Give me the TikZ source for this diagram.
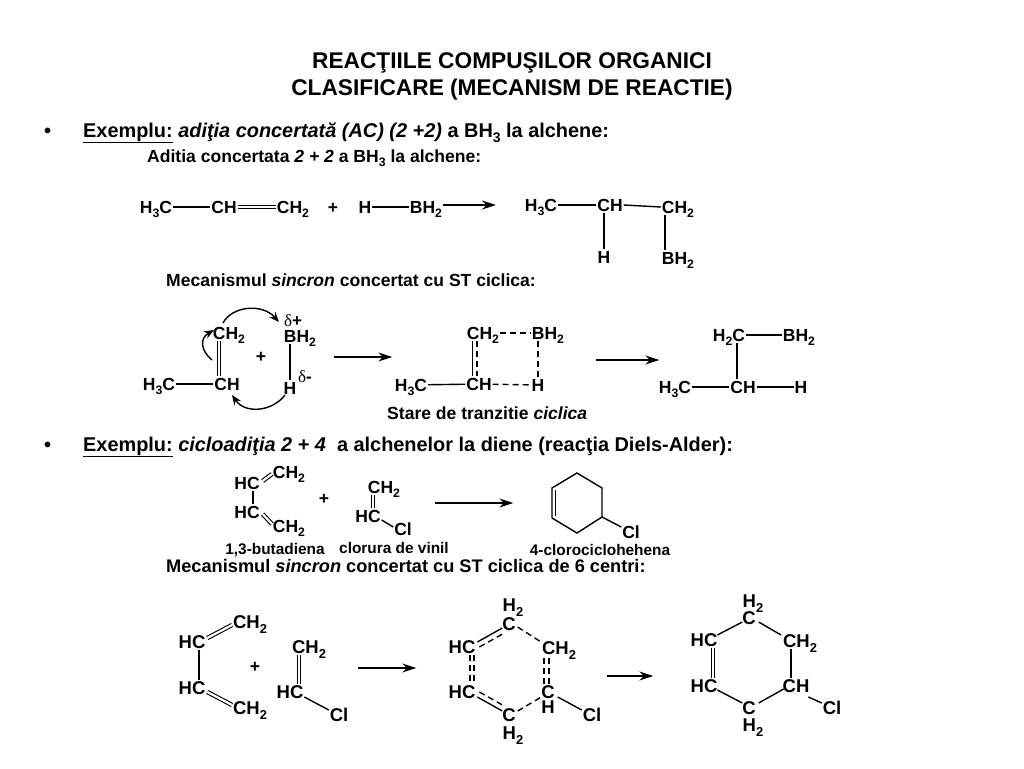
\documentclass[tikz,border=0pt]{standalone}
\usepackage{fontspec}
\usepackage{graphicx}
\setmainfont{Liberation Sans}
\newfontfamily\grk{Liberation Serif}
\usetikzlibrary{arrows.meta}
\newcommand\sbs[1]{\raisebox{-.26em}{\scalebox{.7}{#1}}}
\newcommand\sizeA{\fontsize{17.5}{20}\selectfont\bfseries}
\newcommand\sizeB{\fontsize{18.5}{21}\selectfont\bfseries}
\tikzset{
  atom/.style={font=\sizeA,text height=12.5pt,text depth=0pt,inner xsep=1pt,inner ysep=1.5pt,outer sep=0pt},
  atomB/.style={font=\sizeB,text height=13pt,text depth=0pt,inner xsep=1pt,inner ysep=1.5pt,outer sep=0pt},
  plain/.style={font=\sizeA,inner sep=0pt},
  smalltxt/.style={font=\fontsize{15.4}{18}\selectfont\bfseries,inner sep=0pt},
  headtxt/.style={font=\fontsize{17.55}{20}\selectfont\bfseries,anchor=base west,inner sep=0pt},
  headtxtB/.style={font=\fontsize{18.2}{20}\selectfont\bfseries,anchor=base west,inner sep=0pt},
  bigtxt/.style={font=\fontsize{19.9}{22}\selectfont\bfseries,anchor=base west,inner sep=0pt},
  titletxt/.style={font=\fontsize{22.7}{26}\selectfont\bfseries,inner sep=0pt},
  bond/.style={line width=1.4pt},
  dbl/.style={line width=1.1pt,double,double distance=2.2pt},
  dsh/.style={line width=1.4pt,dash pattern=on 6pt off 4pt},
  arr/.style={line width=1.4pt,-{Stealth[length=14pt,width=9pt]}},
  curv/.style={line width=1.4pt,-{Stealth[length=10pt,width=8pt]}},
}
\begin{document}
\begin{tikzpicture}[x=1pt,y=-1pt]
\useasboundingbox (0,0) rectangle (1024,768);
\fill[white] (0,0) rectangle (1024,768);
% titles
\node[titletxt] (t1) at (512,63) {REACŢIILE COMPUŞILOR ORGANICI};
\node[titletxt] (t2) at (512,90) {CLASIFICARE (MECANISM DE REACTIE)};
\node[bigtxt] (b1) at (44,137) {•};
\node[bigtxt] (h1) at (83,137) {\underline{Exemplu:} \textit{adiţia concertată (AC) (2 +2)} a BH\sbs{3} la alchene:};
\node[headtxt] (h2) at (147,162) {Aditia concertata \textit{2 + 2} a BH\sbs{3} la alchene:};
% reaction 1
\node[atom] (a1) at (156,207) {H\sbs{3}C};
\node[atom] (a2) at (224,207) {CH};
\node[atom] (a3) at (293,207) {CH\sbs{2}};
\node[plain] (a4) at (333,208) {+};
\node[atom] (a5) at (365,207) {H};
\node[atom] (a6) at (426,207) {BH\sbs{2}};
\node[atom] (p1) at (541,205) {H\sbs{3}C};
\node[atom] (p2) at (610,205) {CH};
\node[atom] (p3) at (678,207) {CH\sbs{2}};
\node[atom] (p4) at (604,257) {H};
\node[atom] (p5) at (678,258) {BH\sbs{2}};
\draw[bond] (a1) -- (a2);
\draw[dbl] (a2) -- (a3);
\draw[bond] (a5) -- (a6);
\draw[arr] (a6.east |- 0,205) -- (496,205) coordinate (a7);
\draw[bond] (p1) -- (p2);
\draw[bond] (p2.east) -- (p3.west);
\draw[bond] ([xshift=-6pt]p2.south) -- (p4.north);
\draw[bond] ([xshift=-13pt]p3.south) -- ([xshift=-13pt]p5.north);
% mechanism 1
\node[headtxt] (m1) at (166,286) {Mecanismul \textit{sincron} concertat cu ST ciclica:};
\node[atom] (c1) at (229,333) {CH\sbs{2}};
\node[atom] (c2) at (300,336) {BH\sbs{2}};
\node[font=\fontsize{17}{17}\selectfont,inner sep=0pt] (c3) at (293,321) {{\grk δ}\textbf{+}};
\node[plain] (c4) at (261,357) {+};
\node[atom] (c5) at (159,384) {H\sbs{3}C};
\node[atom] (c6) at (227,384) {CH};
\node[atom] (c7) at (290,388) {H};
\node[font=\fontsize{17}{17}\selectfont,inner sep=0pt] (c8) at (305,377) {{\grk δ}\textbf{-}};
\draw[dbl] ([xshift=-10pt]c1.south) -- ([xshift=-8pt]c6.north);
\draw[bond] (c5) -- (c6);
\draw[bond] ([xshift=-10pt]c2.south) -- (c7.north);
\draw[curv] (223,323) coordinate (s1) .. controls (232,306) and (262,303) .. (279,322) coordinate (e1);
\draw[curv] (212,360) coordinate (s2) .. controls (200,350) and (200,338) .. (214,330) coordinate (e2);
\draw[curv] (285,395) coordinate (s3) .. controls (272,412) and (245,414) .. (232,395) coordinate (e3);
\node[inner sep=0pt] (g1) at (333,357) {};
\node[inner sep=0pt] (g2) at (393,357) {};
\draw[arr] (g1) -- (g2);
\node[atom] (d1) at (483,333) {CH\sbs{2}};
\node[atom] (d2) at (548,333) {BH\sbs{2}};
\node[atom] (d3) at (411,385) {H\sbs{3}C};
\node[atom] (d4) at (479,384) {CH};
\node[atom] (d5) at (538,385) {H};
\node[headtxt] (d6) at (387,419) {Stare de tranzitie \textit{ciclica}};
\draw[dsh] (d1) -- (d2);
\draw[bond] ([xshift=-10.5pt]d1.south) -- ([xshift=-10.5pt]d1.south |- d4.north);
\draw[dsh] ([xshift=-6pt]d1.south) -- ([xshift=-6pt]d1.south |- d4.north);
\draw[dsh] ([xshift=-10pt]d2.south) -- (d5.north);
\draw[bond] (d3) -- (d4);
\draw[dsh] (d4) -- (d5);
\node[inner sep=0pt] (g3) at (595,360) {};
\node[inner sep=0pt] (g4) at (660,360) {};
\draw[arr] (g3) -- (g4);
\node[atom] (f1) at (729,335) {H\sbs{2}C};
\node[atom] (f2) at (799,335) {BH\sbs{2}};
\node[atom] (f3) at (675,387) {H\sbs{3}C};
\node[atom] (f4) at (743,387) {CH};
\node[atom] (f5) at (801,387) {H};
\draw[bond] (f1) -- (f2);
\draw[bond] ([xshift=-6pt]f4.north) -- ([xshift=-6pt]f4.north |- f1.south);
\draw[bond] (f3) -- (f4);
\draw[bond] (f4) -- (f5);
% section 2
\node[bigtxt] (b2) at (44,451) {•};
\node[bigtxt] (h3) at (83,451) {\underline{Exemplu:} \textit{cicloadiţia 2 + 4} ~a alchenelor la diene (reacţia Diels-Alder):};
\node[atom] (k1) at (247,483) {HC};
\node[atom] (k2) at (289,472) {CH\sbs{2}};
\node[atom] (k3) at (247,512) {HC};
\node[atom] (k4) at (289,526) {CH\sbs{2}};
\node[plain] (k5) at (324,499) {+};
\node[atom] (k6) at (384,487) {CH\sbs{2}};
\node[atom] (k7) at (368,516) {HC};
\node[atom] (k8) at (403,529) {Cl};
\node[smalltxt] (k9) at (275,550) {1,3-butadiena};
\node[smalltxt] (k10) at (394,548) {clorura de vinil};
\node[smalltxt] (k11) at (600,550) {4-clorociclohehena};
\draw[dbl] ([shift={(2,-2)}]k1.east) -- ([shift={(0,2)}]k2.west);
\draw[bond] ([xshift=6pt]k1.south) -- ([xshift=6pt]k3.north);
\draw[dbl] ([shift={(2,2)}]k3.east) -- ([shift={(0,-2)}]k4.west);
\draw[dbl] ([xshift=-11pt]k6.south) -- ([xshift=5pt]k7.north);
\draw[bond] ([shift={(0,4)}]k7.east) -- ([shift={(0,-2)}]k8.west);
\node[inner sep=0pt] (g5) at (434,503) {};
\node[inner sep=0pt] (g6) at (514,503) {};
\draw[arr] (g5) -- (g6);
\coordinate (r1) at (577,473);
\coordinate (r2) at (602,488);
\coordinate (r3) at (602,517);
\coordinate (r4) at (577,533);
\coordinate (r5) at (552,518);
\coordinate (r6) at (552,488);
\node[atom] (rc) at (631,532) {Cl};
\draw[bond,line join=miter] (r5) -- (r6) -- (r1) -- (r2) -- (r3) -- (r4) -- (r5);
\draw[bond] (555.5,490) coordinate (r7) -- (555.5,516) coordinate (r8);
\draw[bond] (r3) -- ([shift={(0,-5)}]rc.west);
% mechanism 2
\node[headtxtB] (m2) at (166,572) {Mecanismul \textit{sincron} concertat cu ST ciclica de 6 centri:};
\node[atomB] (n1) at (192,642) {HC};
\node[atomB] (n2) at (250,622) {CH\sbs{2}};
\node[atomB] (n3) at (192,688) {HC};
\node[atomB] (n4) at (250,708) {CH\sbs{2}};
\node[plain] (n5) at (255,667) {+};
\node[atomB] (n6) at (309,647) {CH\sbs{2}};
\node[atomB] (n7) at (290,692) {HC};
\node[atomB] (n8) at (339,715) {Cl};
\draw[dbl] ([shift={(1,-4)}]n1.east) -- ([shift={(0,3)}]n2.west);
\draw[bond] ([xshift=7pt]n1.south) -- ([xshift=7pt]n3.north);
\draw[dbl] ([shift={(1,4)}]n3.east) -- ([shift={(0,-3)}]n4.west);
\draw[dbl] ([xshift=-10pt]n6.south) -- ([xshift=9pt]n7.north);
\draw[bond] ([shift={(0,5)}]n7.east) -- ([shift={(0,-5)}]n8.west);
\node[inner sep=0pt] (g7) at (357,668) {};
\node[inner sep=0pt] (g8) at (417,668) {};
\draw[arr] (g7) -- (g8);
% TS ring
\node[atomB] (u1) at (513,605) {H\sbs{2}};
\node[atomB] (u2) at (509,624) {C};
\node[atomB] (u3) at (462,647) {HC};
\node[atomB] (u4) at (559,648) {CH\sbs{2}};
\node[atomB] (u5) at (462,692) {HC};
\node[atomB] (u6) at (548,692) {C};
\node[atomB] (u7) at (548,707) {H};
\node[atomB] (u8) at (509,715) {C};
\node[atomB] (u9) at (513,733) {H\sbs{2}};
\node[atomB] (u10) at (592,715) {Cl};
\draw[bond] ([shift={(1,-5)}]u3.east) -- ([shift={(1,4)}]u2.west);
\draw[dsh] ([shift={(3,0)}]u3.east) -- ([shift={(3,9)}]u2.west);
\draw[dsh] ([shift={(1,3)}]u2.east) -- ([shift={(0,-6)}]u4.west);
\draw[dsh] ([xshift=-4pt]u6.north) -- ([xshift=-4pt]u6.north |- u4.south);
\draw[dsh] ([xshift=1pt]u6.north) -- ([xshift=1pt]u6.north |- u4.south);
\draw[dsh] ([xshift=8pt]u3.south) -- ([xshift=8pt]u3.south |- u5.north);
\draw[dsh] ([xshift=12pt]u3.south) -- ([xshift=12pt]u3.south |- u5.north);
\draw[bond] ([shift={(1,5)}]u5.east) -- ([shift={(1,-4)}]u8.west);
\draw[dsh] ([shift={(3,0)}]u5.east) -- ([shift={(3,-9)}]u8.west);
\draw[dsh] ([shift={(1,-4)}]u8.east) -- ([shift={(1,5)}]u6.west);
\draw[bond] ([shift={(2,5)}]u6.east) -- ([shift={(0,-5)}]u10.west);
\node[inner sep=0pt] (g9) at (606,676) {};
\node[inner sep=0pt] (g10) at (654,676) {};
\draw[arr] (g9) -- (g10);
% product ring
\node[atomB] (v1) at (753,601) {H\sbs{2}};
\node[atomB] (v2) at (749,618) {C};
\node[atomB] (v3) at (704,640) {HC};
\node[atomB] (v4) at (800,641) {CH\sbs{2}};
\node[atomB] (v5) at (704,686) {HC};
\node[atomB] (v6) at (796,686) {CH};
\node[atomB] (v7) at (749,708) {C};
\node[atomB] (v8) at (753,725) {H\sbs{2}};
\node[atomB] (v9) at (832,708) {Cl};
\draw[bond] ([shift={(-1,-5)}]v3.east) -- ([shift={(1,4)}]v2.west);
\draw[bond] ([shift={(2,4)}]v2.east) -- ([shift={(-1,-6)}]v4.west);
\draw[bond] ([xshift=-9pt]v4.south) -- ([xshift=-5pt]v6.north);
\draw[dbl] ([xshift=9pt]v3.south) -- ([xshift=9pt]v5.north);
\draw[bond] ([shift={(-1,4)}]v5.east) -- ([shift={(1,-5)}]v7.west);
\draw[bond] ([shift={(2,-5)}]v7.east) -- ([shift={(2,3)}]v6.west);
\draw[bond] ([shift={(-2,11)}]v6.east) -- ([shift={(0,-5)}]v9.west);
\end{tikzpicture}
\end{document}
